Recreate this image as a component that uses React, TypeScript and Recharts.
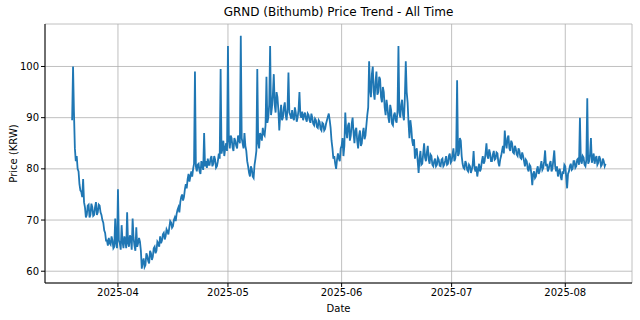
import { LineChart, Line, XAxis, YAxis, CartesianGrid } from 'recharts'

// days counted from 2025-04-01, one price every quarter day
const STEP = 0.25

const marchStart = -12.5
const marchPrices = [
  89.5, 100, 91, 84, 81.5, 82.5, 80, 79.5, 77, 75.8,
  75.5, 74.5, 78, 73.5, 72.5, 70.5, 71, 72.8, 73, 70.5,
  71, 73.2, 72.5, 70.8, 71, 72.5, 73.5, 71, 71.5, 73,
  72.8, 71.5, 71, 70, 69.5, 68, 67.5, 66, 66, 65,
  66.5, 65.5, 65.2, 66.8, 66, 64.5, 64.8, 70.3, 65.5, 64.5,
]

const aprilStart = 0
const aprilPrices = [
  76, 66, 65.5, 64.2, 69, 65.8, 64.5, 66.8, 66, 64.5,
  71.5, 65.5, 64.8, 67, 66.5, 64.2, 70.3, 66.5, 65, 64,
  68.6, 64.8, 65.5, 66.5, 65.8, 64, 60.5, 61.8, 62.5, 60.8,
  61.2, 63.5, 63, 62, 61.5, 64, 63.5, 62.2, 62.8, 64.5,
  64.8, 63.5, 64, 65.8, 65.5, 64.8, 66.8, 65.5, 66, 67.2,
  67.5, 66.2, 66.8, 68.2, 67.8, 67.2, 68.5, 69.8, 69.5, 68.5,
  68.8, 70, 70.5, 69.8, 71.2, 72, 72.5, 71.5, 73.5, 74.5,
  75, 73.8, 74.5, 76, 77, 76.2, 78, 79, 77.5, 78.5,
  79.5, 78.5, 80, 81, 99, 80.5, 79.5, 80.8, 81, 79.5,
  79, 81.5, 80.5, 79.8, 87, 80.5, 81.5, 80.2, 82, 80.8,
  80.8, 82, 82.5, 80.5, 81, 82.5, 81.8, 80.2, 80.5, 81.5,
  83, 82, 99.5, 83, 84, 85.5, 82.5, 84, 85, 83.5,
]

const mayStart = 30
const mayPrices = [
  104, 85.5, 84, 86.5, 86, 84.2, 83.5, 86, 85.5, 84.5,
  84, 86.5, 86, 85, 106, 86, 85, 84, 87, 84.5,
  83.5, 81.5, 80.5, 79.2, 78.5, 80.5, 80, 78.5, 78.2, 80.8,
  82, 83.5, 99.5, 85, 84, 87, 86.5, 85.5, 88, 86.8,
  86.5, 88.5, 98, 89, 90, 92.5, 104, 90.5, 92, 94.5,
  98.5, 92.5, 91, 95, 94, 91.5, 87.5, 90.5, 92.5, 89.5,
  90, 92, 93, 90.5, 89.5, 91.8, 98.8, 91, 90.5, 89.8,
  91.5, 90, 89.5, 92, 91, 89.2, 90, 91.5, 95, 90.5,
  90, 91.2, 89.5, 90.5, 91, 89.8, 89.2, 90.8, 90.5, 89.5,
  89, 90.8, 90, 88.8, 88.5, 89.8, 89.5, 88.2, 88, 89.5,
  89.2, 87.8, 87.5, 89, 88.8, 87.5, 87.8, 88.8, 89.5, 90.2,
  90.8, 89.5, 88, 85.5, 84, 82, 82.5, 81, 80, 81.8,
  83, 82, 81.5, 84,
]

const juneStart = 61
const junePrices = [
  84.5, 86, 82.5, 84.5, 91, 87.5, 86, 88.5, 89, 85.5,
  86.5, 88.8, 90, 87, 85, 87.5, 88, 85.5, 84, 86.5,
  87.5, 84.5, 85, 87, 88, 85.8, 86.5, 88.5, 90.5, 92,
  101, 95.5, 94, 98.5, 100, 95, 93.5, 97, 99, 94.5,
  95, 98, 97.5, 94, 93, 96, 95, 92, 90.5, 93.5,
  92, 90, 89, 92.5, 91.5, 88.8, 88.5, 90.5, 91, 89.5,
  89, 91.5, 104, 91, 90, 92.5, 93.5, 90.5, 89.5, 94,
  101, 95, 93, 89, 86, 89.5, 88, 85.5, 84.5, 85.8,
  82, 83.5, 84, 81.5, 79.2, 82, 83.5, 80.8, 81, 83,
  85, 82.2, 81.5, 83.2, 84.5, 81.8, 81, 82.8, 82.5, 80.8,
  80.5, 81.5, 82, 80.5, 80.8, 82.2, 81.8, 80.6, 80.5, 81.8,
  82, 80.5, 80.8, 81.6, 82.5, 80.8, 81, 82.5, 83, 81.2,
]

const julyStart = 91
const julyPrices = [
  81.5, 82.8, 84, 81.5, 82, 83.5, 97.3, 82.5, 83, 86,
  85.5, 82.5, 81, 80.2, 80, 81.5, 81, 79.8, 79.5, 80.8,
  80.5, 79.2, 79.8, 80.8, 83.5, 80.2, 79.5, 80.5, 78.5, 79.8,
  81, 79.5, 80, 81.5, 82.5, 81, 81.5, 83, 85, 82.5,
  82, 83.8, 83, 81.5, 81.5, 82.8, 83.5, 81.8, 82, 83.2,
  83, 81.2, 80.5, 81.8, 82.5, 83.5, 84.5, 83, 87.5, 85,
  84, 86, 86.5, 84, 83.5, 85.5, 85, 83.2, 83, 84.5,
  84, 82.8, 82.5, 84, 83.5, 82.2, 82, 83.2, 82.5, 81.5,
  80.5, 81.8, 81.5, 80, 79.5, 80.8, 80.5, 79, 76.8, 79,
  79.5, 78.2, 78.5, 79.8, 80.5, 79, 79.5, 80.5, 81.5, 79.8,
  80.2, 81.5, 83.6, 80.5, 81, 79.5, 80, 81, 81.5, 79.5,
  80, 81.8, 83.6, 80.5, 79.5, 80.5, 78.5, 79.5, 80, 78.5,
  77.8, 79.5, 79, 80.8,
]

const augustStart = 122
const augustPrices = [
  80.5, 78.5, 76.2, 79, 79.5, 80.5, 81, 79.8, 80, 81.5,
  81.5, 80.2, 80.5, 81.8, 82, 80.8, 90, 81.5, 81, 82.5,
  82.2, 80.8, 80.5, 81.8, 93.8, 81, 81.5, 82.8, 86, 81.2,
  82, 83, 81, 82, 82.5, 80.8, 81.2, 82.5, 82, 80.5,
  80.8, 82, 81.5, 80.5, 81,
]

const tickDays = [0, 30, 61, 91, 122]
const tickLabels = ['2025-04', '2025-05', '2025-06', '2025-07', '2025-08']
const priceTicks = [60, 70, 80, 90, 100]

const segments: [number, number[]][] = [
  [marchStart, marchPrices],
  [aprilStart, aprilPrices],
  [mayStart, mayPrices],
  [juneStart, junePrices],
  [julyStart, julyPrices],
  [augustStart, augustPrices],
]

const data = segments.flatMap(([start, prices]) =>
  prices.map((price, i) => ({ day: start + i * STEP, price }))
)

const font = 'DejaVu Sans, sans-serif'

export default function App() {
  return (
    <div style={{ position: 'relative', width: 640, height: 320, fontFamily: font, background: '#fff' }}>
      <style>{'body{margin:0}'}</style>
      <div
        style={{
          position: 'absolute',
          top: 5,
          left: 45,
          width: 587,
          textAlign: 'center',
          fontSize: 12,
          color: '#000',
        }}
      >
        GRND (Bithumb) Price Trend - All Time
      </div>
      <LineChart width={640} height={320} data={data} margin={{ top: 24, right: 8, bottom: 0, left: 0 }}>
        <CartesianGrid stroke="#b0b0b0" strokeWidth={0.8} />
        <XAxis
          dataKey="day"
          type="number"
          domain={[-19.9, 140.2]}
          ticks={tickDays}
          tickFormatter={(d: number) => tickLabels[tickDays.indexOf(d)]}
          height={37}
          tickSize={4}
          stroke="#000"
          tick={{ fill: '#000', fontSize: 10, fontFamily: font }}
          label={{ value: 'Date', position: 'insideBottom', offset: 8, fill: '#000', fontSize: 10, fontFamily: font }}
        />
        <XAxis xAxisId="top" orientation="top" type="number" domain={[-19.9, 140.2]} height={0} tick={false} tickLine={false} stroke="#000" />
        <YAxis
          type="number"
          domain={[57.7, 108.3]}
          ticks={priceTicks}
          width={45}
          tickSize={4}
          stroke="#000"
          tick={{ fill: '#000', fontSize: 10, fontFamily: font }}
          label={{ value: 'Price (KRW)', angle: -90, position: 'insideLeft', offset: 13, fill: '#000', fontSize: 10, fontFamily: font, style: { textAnchor: 'middle' } }}
        />
        <YAxis yAxisId="right" orientation="right" type="number" domain={[57.7, 108.3]} width={0} tick={false} tickLine={false} stroke="#000" />
        <Line
          type="linear"
          dataKey="price"
          stroke="#1f77b4"
          strokeWidth={1.8}
          dot={false}
          isAnimationActive={false}
        />
      </LineChart>
    </div>
  )
}
